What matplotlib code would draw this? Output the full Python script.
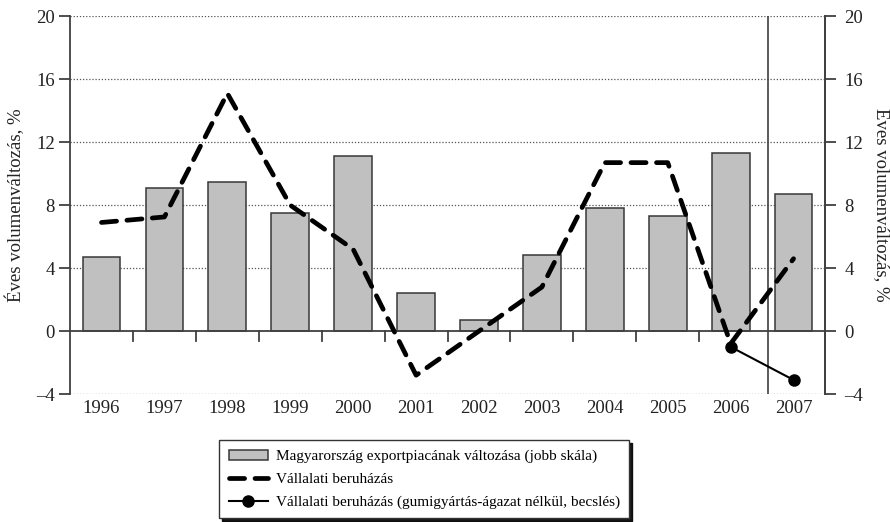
import matplotlib
matplotlib.use("Agg")
import matplotlib.pyplot as plt
import numpy as np

years = ["1996", "1997", "1998", "1999", "2000", "2001", "2002", "2003", "2004", "2005", "2006", "2007"]
export_market = [4.7, 9.1, 9.45, 7.5, 11.1, 2.45, 0.7, 4.85, 7.85, 7.3, 11.3, 8.7]
corp_invest = [6.9, 7.25, 15.1, 8.0, 5.2, -2.8, 0.0, 2.8, 10.7, 10.7, -0.8, 4.6]
corp_invest_ex_years = ["2006", "2007"]
corp_invest_ex = [-1.0, -3.1]
yticks = [-4, 0, 4, 8, 12, 16, 20]
ylabel = "Éves volumenváltozás, %"
legend_labels = ["Magyarország exportpiacának változása (jobb skála)",
                 "Vállalati beruházás",
                 "Vállalati beruházás (gumigyártás-ágazat nélkül, becslés)"]

plt.rcParams['font.family'] = ['Liberation Serif', 'DejaVu Serif']
FS = 13.5

fig = plt.figure(figsize=(8.9, 5.22), dpi=100)
ax = fig.add_axes([0.0787, 0.245, 0.8483, 0.724])

x = np.arange(len(years))
bars = ax.bar(x, export_market, width=0.6, color="#c0c0c0", edgecolor="#383838", linewidth=1.1, zorder=3)
ln1, = ax.plot(x, corp_invest, color="black", linestyle=(0, (3.2, 2.2)), linewidth=3.4,
               dash_capstyle="round", zorder=4)
xi = [years.index(y) for y in corp_invest_ex_years]
ln2, = ax.plot(xi, corp_invest_ex, color="black", linewidth=1.5, marker="o", markersize=8, zorder=5)

ax.set_xlim(-0.5, len(years) - 0.5)
ax.set_ylim(-4, 20)
ax.set_yticks(yticks)
ax.set_yticklabels([str(t).replace("-", "\u2013") for t in yticks], fontsize=FS, color="#222222")
for t in yticks:
    if t != 0:
        ax.axhline(t, color="#555555", linestyle=(0, (1, 1.5)), linewidth=0.9, zorder=1)
ax.axhline(0, color="#404040", linewidth=1.3, zorder=3)
for b in np.arange(0.5, len(years) - 1.5, 1.0):
    ax.plot([b, b], [0, -0.6], color="#404040", linewidth=1.3, zorder=3)
ax.axvline(10.6, color="#404040", linewidth=1.2, zorder=3)

ax.set_xticks(x)
ax.set_xticklabels(years, fontsize=FS, color="#222222")
ax.tick_params(axis="x", length=0, pad=4)
ax.tick_params(axis="y", direction="out", length=8, width=1.3, color="#404040", pad=3)

for s in ["top", "bottom"]:
    ax.spines[s].set_visible(False)
for s in ["left", "right"]:
    ax.spines[s].set_color("#404040")
    ax.spines[s].set_linewidth(1.3)

ax.set_ylabel(ylabel, fontsize=FS, labelpad=8, color="#222222")

ax2 = ax.twinx()
ax2.set_ylim(-4, 20)
ax2.set_yticks(yticks)
ax2.set_yticklabels([str(t).replace("-", "\u2013") for t in yticks], fontsize=FS, color="#222222")
ax2.tick_params(axis="y", direction="out", length=8, width=1.3, color="#404040", pad=6)
for s in ["top", "bottom", "left"]:
    ax2.spines[s].set_visible(False)
ax2.spines["right"].set_color("#404040")
ax2.spines["right"].set_linewidth(1.3)
ax2.set_ylabel(ylabel, fontsize=FS, rotation=270, labelpad=20, color="#222222")

leg = fig.legend([bars, ln1, ln2], legend_labels, loc="upper left",
                 bbox_to_anchor=(0.238, 0.171), fontsize=11, frameon=True, fancybox=False,
                 edgecolor="#333333", handlelength=2.6, handletextpad=0.5, borderpad=0.6,
                 labelspacing=0.6, shadow={"color": "black", "alpha": 0.9})
leg.get_frame().set_linewidth(1.0)

fig.savefig("out.png", dpi=100)
